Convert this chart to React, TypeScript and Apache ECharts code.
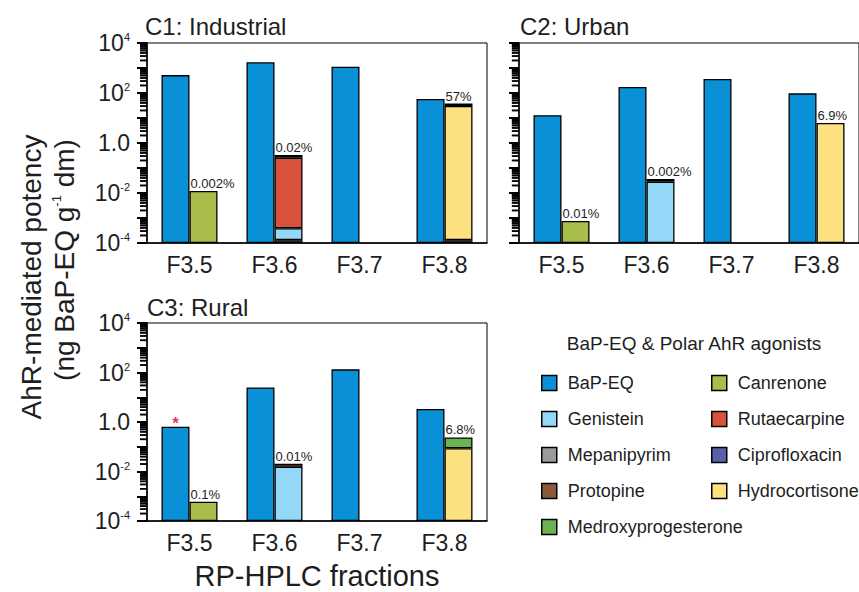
import React, { useEffect, useRef } from 'react';
import * as echarts from 'echarts';

const FONT = '"Liberation Sans", Arial, Helvetica, sans-serif';
const TXT = '#1e1e1e';

const categories = ['F3.5', 'F3.6', 'F3.7', 'F3.8'];
const panelTitles = ['C1: Industrial', 'C2: Urban', 'C3: Rural'];
const yTickExponents = [-4, -2, 0, 2, 4];

// BaP-EQ (ng BaP-EQ / g dm), per panel
const bapEqC1 = [520, 1700, 1130, 58];
const bapEqC2 = [13, 174, 363, 97];
const bapEqC3 = [0.65, 25, 134, 3.35];

const N = null;
// Polar AhR agonists (ng BaP-EQ / g dm)
const mepanipyrimC1 = [N, 1.3e-4, N, 1.3e-4];
const mepanipyrimC2 = [N, N, N, N];
const mepanipyrimC3 = [N, N, N, N];
const genisteinC1 = [N, 2.6e-4, N, N];
const genisteinC2 = [N, 0.028, N, N];
const genisteinC3 = [N, 0.0155, N, N];
const canrenoneC1 = [0.012, N, N, N];
const canrenoneC2 = [7.6e-4, N, N, N];
const canrenoneC3 = [6e-4, N, N, N];
const rutaecarpineC1 = [N, 0.26, N, N];
const rutaecarpineC2 = [N, N, N, N];
const rutaecarpineC3 = [N, N, N, N];
const hydrocortisoneC1 = [N, N, N, 30];
const hydrocortisoneC2 = [N, N, N, 6.3];
const hydrocortisoneC3 = [N, N, N, 0.087];
const medroxyprogesteroneC1 = [N, N, N, N];
const medroxyprogesteroneC2 = [N, N, N, N];
const medroxyprogesteroneC3 = [N, N, N, 0.15];
const protopineC1 = [N, 0.07, N, 8];
const protopineC2 = [N, 0.008, N, N];
const protopineC3 = [N, 0.005, N, N];
const ciprofloxacinC1 = [N, N, N, N];
const ciprofloxacinC2 = [N, N, N, N];
const ciprofloxacinC3 = [N, N, N, N];

// percentage labels above the agonist bars
const pctC1 = ['0.002%', '0.02%', '', '57%'];
const pctC2 = ['0.01%', '0.002%', '', '6.9%'];
const pctC3 = ['0.1%', '0.01%', '', '6.8%'];
// red asterisk marks on BaP-EQ bars
const starC1 = [false, false, false, false];
const starC2 = [false, false, false, false];
const starC3 = [true, false, false, false];

const FLOOR_EXP = -4; // axis bottom 10^-4

const colors: Record<string, string> = {
  'BaP-EQ': '#0a90d6',
  Genistein: '#93d8f6',
  Mepanipyrim: '#9a9a9a',
  Protopine: '#8a5a3a',
  Medroxyprogesterone: '#6cb252',
  Canrenone: '#a9bd4a',
  Rutaecarpine: '#d9523b',
  Ciprofloxacin: '#5861a8',
  Hydrocortisone: '#fde180',
};

const legendCol1 = ['BaP-EQ', 'Genistein', 'Mepanipyrim', 'Protopine', 'Medroxyprogesterone'];
const legendCol2 = ['Canrenone', 'Rutaecarpine', 'Ciprofloxacin', 'Hydrocortisone'];

type Agonist = { name: string; data: (number | null)[][] };
// stack order bottom -> top
const agonists: Agonist[] = [
  { name: 'Mepanipyrim', data: [mepanipyrimC1, mepanipyrimC2, mepanipyrimC3] },
  { name: 'Genistein', data: [genisteinC1, genisteinC2, genisteinC3] },
  { name: 'Canrenone', data: [canrenoneC1, canrenoneC2, canrenoneC3] },
  { name: 'Rutaecarpine', data: [rutaecarpineC1, rutaecarpineC2, rutaecarpineC3] },
  { name: 'Hydrocortisone', data: [hydrocortisoneC1, hydrocortisoneC2, hydrocortisoneC3] },
  { name: 'Medroxyprogesterone', data: [medroxyprogesteroneC1, medroxyprogesteroneC2, medroxyprogesteroneC3] },
  { name: 'Protopine', data: [protopineC1, protopineC2, protopineC3] },
  { name: 'Ciprofloxacin', data: [ciprofloxacinC1, ciprofloxacinC2, ciprofloxacinC3] },
];
const bapPanels = [bapEqC1, bapEqC2, bapEqC3];
const pctPanels = [pctC1, pctC2, pctC3];
const starPanels = [starC1, starC2, starC3];

const grids = [
  { left: 147, top: 43, width: 340, height: 200 },
  { left: 519, top: 43, width: 342, height: 200 },
  { left: 147, top: 323, width: 340, height: 198 },
];
const titlePos = [
  [145, 27],
  [520, 27],
  [147, 308],
];

const toAxis = (v: number) => Math.log10(v) - FLOOR_EXP;

// log-spaced minor tick positions (2..9 within each decade), in axis units
const minorTicks: number[] = [];
for (let d = 0; d < 8; d++) for (let k = 2; k <= 9; k++) minorTicks.push(d + Math.log10(k));

const borderStyle = { borderColor: '#000', borderWidth: 1.3 };
const MINOR_LEN = 7;

function buildGraphic(): any[] {
  const graphic: any[] = panelTitles.map((t, i) => ({
    type: 'text',
    left: titlePos[i][0],
    top: titlePos[i][1] - 13,
    style: { text: t, fontSize: 24, fill: TXT, fontFamily: FONT },
  }));
  graphic.push(
    {
      type: 'text',
      x: 31,
      y: 277,
      rotation: Math.PI / 2,
      style: {
        text: 'AhR-mediated potency',
        fontSize: 28,
        fill: TXT,
        fontFamily: FONT,
        align: 'center',
        verticalAlign: 'middle',
      },
    },
    {
      type: 'text',
      x: 64,
      y: 260,
      rotation: Math.PI / 2,
      style: {
        text: '{a|(ng BaP-EQ g}{s|-1}{a| dm)}',
        fontSize: 28,
        fill: TXT,
        fontFamily: FONT,
        align: 'center',
        verticalAlign: 'middle',
        rich: {
          a: { fontSize: 28, fill: TXT, fontFamily: FONT },
          s: { fontSize: 13, fill: TXT, fontFamily: FONT, verticalAlign: 'top', lineHeight: 13 },
        },
      },
    },
    {
      type: 'text',
      x: 317,
      y: 576,
      style: {
        text: 'RP-HPLC fractions',
        fontSize: 29,
        fill: TXT,
        fontFamily: FONT,
        align: 'center',
        verticalAlign: 'middle',
      },
    },
    {
      type: 'text',
      x: 694,
      y: 343,
      style: {
        text: 'BaP-EQ & Polar AhR agonists',
        fontSize: 19,
        fill: TXT,
        fontFamily: FONT,
        align: 'center',
        verticalAlign: 'middle',
      },
    }
  );
  return graphic;
}

function buildOption() {
  const series: any[] = [];
  const xAxis: any[] = [];
  const yAxis: any[] = [];
  for (let p = 0; p < 3; p++) {
    xAxis.push({
      type: 'category',
      gridIndex: p,
      data: categories,
      axisLine: { lineStyle: { color: '#000', width: 1.5 } },
      axisTick: { length: 8, lineStyle: { color: '#000', width: 1.5 } },
      axisLabel: { fontSize: 23, color: TXT, fontFamily: FONT, margin: 10 },
    });
    yAxis.push({
      type: 'value',
      gridIndex: p,
      min: 0,
      max: 8,
      interval: 1,
      splitLine: { show: false },
      axisLine: { show: true, lineStyle: { color: '#000', width: 1.5 } },
      axisTick: { show: true, length: 10, lineStyle: { color: '#000', width: 2 } },
      axisLabel: {
        show: p !== 1,
        margin: 17,
        formatter: (v: number) => {
          const e = Math.round(v + FLOOR_EXP);
          if (!yTickExponents.includes(e)) return '';
          if (e === 0) return '{b|1.0}';
          return `{b|10}{s|${e}}`;
        },
        rich: {
          b: { fontSize: 23, color: TXT, fontFamily: FONT },
          s: { fontSize: 11, color: TXT, fontFamily: FONT, verticalAlign: 'top', lineHeight: 11 },
        },
      },
    });
    // BaP-EQ bars
    series.push({
      name: 'BaP-EQ',
      type: 'bar',
      xAxisIndex: p,
      yAxisIndex: p,
      barWidth: 28,
      barGap: '0%',
      itemStyle: { color: colors['BaP-EQ'], ...borderStyle },
      data: bapPanels[p].map((v, i) =>
        starPanels[p][i]
          ? {
              value: toAxis(v),
              label: {
                show: true,
                position: 'top',
                distance: -5,
                formatter: '*',
                color: '#e8364e',
                fontSize: 17,
                fontWeight: 'bold',
                fontFamily: FONT,
              },
            }
          : toAxis(v)
      ),
    });
    // stacked agonists, stacked in log space
    const incs: any[][] = agonists.map(() => []);
    for (let c = 0; c < categories.length; c++) {
      let cum = 0;
      let prevTop = 0;
      let topIdx = -1;
      agonists.forEach((a, s) => {
        const v = a.data[p][c];
        if (v == null) {
          incs[s].push('-');
          return;
        }
        cum += v;
        const top = toAxis(cum);
        incs[s].push(top - prevTop);
        prevTop = top;
        topIdx = s;
      });
      if (topIdx >= 0 && pctPanels[p][c]) {
        incs[topIdx][c] = {
          value: incs[topIdx][c],
          label: {
            show: true,
            formatter: pctPanels[p][c],
            position: [1, -1],
            align: 'left',
            verticalAlign: 'bottom',
            fontSize: 13,
            color: TXT,
            fontFamily: FONT,
          },
        };
      }
    }
    agonists.forEach((a, s) => {
      series.push({
        name: a.name,
        type: 'bar',
        xAxisIndex: p,
        yAxisIndex: p,
        stack: 'ag' + p,
        barWidth: 28,
        barGap: '0%',
        itemStyle: { color: colors[a.name], ...borderStyle },
        data: incs[s],
      });
    });
    // log-spaced minor ticks as thin rect symbols pulled onto the y-axis line
    const halfBand = grids[p].width / categories.length / 2;
    series.push({
      name: 'minorTicks' + p,
      type: 'scatter',
      xAxisIndex: p,
      yAxisIndex: p,
      silent: true,
      clip: false,
      z: 20,
      symbol: 'rect',
      symbolSize: [MINOR_LEN, 1.6],
      symbolOffset: [-(halfBand + MINOR_LEN / 2), 0],
      itemStyle: { color: '#000' },
      data: minorTicks.map((v) => [0, v]),
    });
  }

  const legendCommon = {
    orient: 'vertical',
    itemWidth: 15,
    itemHeight: 15,
    itemGap: 18,
    icon: 'rect',
    selectedMode: false,
    itemStyle: { borderColor: '#000', borderWidth: 1.5 },
    textStyle: { fontSize: 18, color: TXT, fontFamily: FONT, lineHeight: 17, padding: [0, 0, 0, 6] },
  };

  return {
    animation: false,
    backgroundColor: '#fff',
    grid: grids.map((g) => ({ ...g, show: true, borderColor: '#000', borderWidth: 1, backgroundColor: 'transparent' })),
    xAxis,
    yAxis,
    series,
    legend: [
      { ...legendCommon, left: 536, top: 369, data: legendCol1 },
      { ...legendCommon, left: 706, top: 369, data: legendCol2 },
    ],
    graphic: buildGraphic(),
  };
}

export default function App() {
  const ref = useRef<HTMLDivElement>(null);
  useEffect(() => {
    if (!ref.current) return;
    const chart = echarts.init(ref.current, undefined, { renderer: 'svg' });
    chart.setOption(buildOption() as any);
    // log-spaced minor ticks, also drawn as graphic lines placed through each panel's own axes
    const tickLines: any[] = [];
    for (let p = 0; p < 3; p++) {
      const finder = { xAxisIndex: p, yAxisIndex: p } as any;
      const first = chart.convertToPixel(finder, [0, 0]) as number[];
      const second = chart.convertToPixel(finder, [1, 0]) as number[];
      if (!first || !second) continue;
      const x0 = first[0] - (second[0] - first[0]) / 2;
      minorTicks.forEach((v) => {
        const pt = chart.convertToPixel(finder, [0, v]) as number[];
        if (!pt) return;
        tickLines.push({
          type: 'line',
          silent: true,
          z: 100,
          shape: { x1: x0 - MINOR_LEN, y1: pt[1], x2: x0, y2: pt[1] },
          style: { stroke: '#000', lineWidth: 1.6 },
        });
      });
    }
    chart.setOption({ graphic: [...buildGraphic(), ...tickLines] } as any);
    return () => chart.dispose();
  }, []);
  return (
    <div
      ref={ref}
      style={{ position: 'fixed', left: 0, top: 0, width: 859, height: 592, background: '#fff' }}
    />
  );
}
